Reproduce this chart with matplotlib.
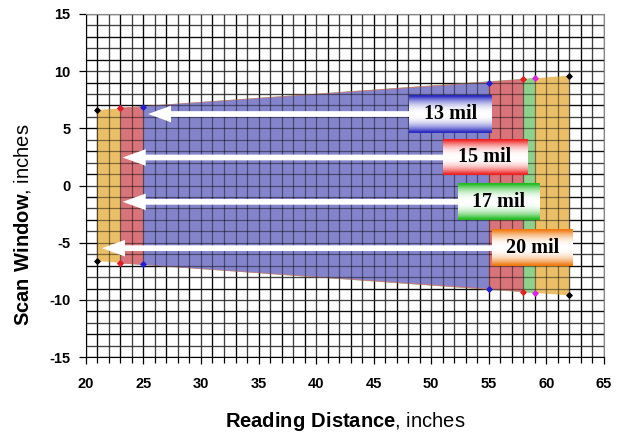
import matplotlib
matplotlib.use("Agg")
import numpy as np
import matplotlib.pyplot as plt
from matplotlib.colors import to_rgb
from matplotlib.patches import FancyArrow

plt.rcParams['font.family'] = 'Liberation Sans'
plt.rcParams['mathtext.fontset'] = 'custom'
plt.rcParams['mathtext.bf'] = 'Liberation Sans:bold'
plt.rcParams['mathtext.rm'] = 'Liberation Sans'
plt.rcParams['axes.unicode_minus'] = False

# scan windows per bar code size: (near distance, far distance), half window at each end
labels = ['20 mil', '17 mil', '15 mil', '13 mil']
near_x = [21, 23, 23, 25]
far_x = [62, 59, 58, 55]
near_half = [6.6, 6.8, 6.8, 6.9]
far_half = [9.6, 9.4, 9.3, 9.0]
fill_colors = ['#eabf68', '#8ed08c', '#d8747a', '#8484cc']
marker_colors = ['black', '#e020e0', '#e02020', '#2020d0']
box_colors = ['#f07a10', '#22bb22', '#ee2222', '#2a2ac0']

# label boxes (x0, x1, y0, y1) and arrow tips
box_x0 = [55.3, 52.3, 51.0, 48.1]
box_x1 = [62.3, 59.4, 58.3, 55.3]
box_y0 = [-7.05, -3.0, 0.9, 4.6]
box_y1 = [-3.9, 0.15, 4.0, 7.9]
arrow_tip = [21.4, 23.2, 23.2, 25.4]

fig = plt.figure(figsize=(6.22, 4.34), dpi=100)
ax = fig.add_axes([0.138, 0.177, 0.833, 0.791])

# grid every inch, alternating dark / grey
xs = np.arange(20, 66)
ys = np.arange(-15, 16)
xcol = ['#111111' if v % 2 else '#777777' for v in xs]
ycol = ['#111111' if v % 2 else '#777777' for v in ys]
ax.vlines(xs, -15, 15, colors=xcol, lw=0.9, zorder=1)
ax.hlines(ys, 20, 65, colors=ycol, lw=0.9, zorder=1)

for i in range(len(labels)):
    px = [near_x[i], near_x[i], far_x[i], far_x[i]]
    py = [-near_half[i], near_half[i], far_half[i], -far_half[i]]
    ax.fill(px, py, color=fill_colors[i], lw=0, zorder=2)

# grid shows through the fills, darkened
ax.vlines(xs, -15, 15, colors='black', lw=0.9, alpha=0.45, zorder=2.5)
ax.hlines(ys, 20, 65, colors='black', lw=0.9, alpha=0.45, zorder=2.5)

for i in range(len(labels)):
    px = [near_x[i], near_x[i], far_x[i], far_x[i]]
    py = [-near_half[i], near_half[i], far_half[i], -far_half[i]]
    ax.scatter(px, py, color=marker_colors[i], marker='D', s=7, zorder=3)

for i in range(len(labels)):
    yc = (box_y0[i] + box_y1[i]) / 2
    ax.add_patch(FancyArrow(box_x0[i] + 1, yc, arrow_tip[i] - box_x0[i] - 1, 0,
                            width=0.5, head_width=1.45, head_length=2.0,
                            length_includes_head=True, color='white', lw=0, zorder=4))
    t = np.linspace(0, 1, 60)
    w = np.clip(np.abs(2 * t - 1) ** 2.2 * 1.1, 0, 1)
    c = np.array(to_rgb(box_colors[i]))
    img = (1 - w)[:, None] * np.ones(3) + w[:, None] * c
    ax.imshow(img[:, None, :], extent=[box_x0[i], box_x1[i], box_y0[i], box_y1[i]],
              aspect='auto', zorder=5, interpolation='bilinear')
    ax.text((box_x0[i] + box_x1[i]) / 2, yc, labels[i], ha='center', va='center',
            family='Liberation Serif', fontweight='bold', fontsize=14.5, zorder=6)

ax.set_xlim(20, 65)
ax.set_ylim(-15, 15)
ax.set_xticks(np.arange(20, 66, 5))
ax.set_xticks(np.arange(20, 66, 1), minor=True)
ax.set_yticks(np.arange(-15, 16, 5))
ax.tick_params(axis='both', labelsize=10.5, direction='out', length=5, width=0.9)
ax.tick_params(axis='x', pad=9)
ax.tick_params(axis='y', pad=6)
ax.tick_params(axis='x', which='minor', length=4, width=0.9)
for lab in ax.get_xticklabels() + ax.get_yticklabels():
    lab.set_fontweight('bold')
for s in ['top', 'right']:
    ax.spines[s].set_color('#888888')

ax.set_xlabel(r'$\bf{Reading\ Distance}$, inches', fontsize=14.5, labelpad=14)
ax.set_ylabel(r'$\bf{Scan\ Window}$, inches', fontsize=14.5)
ax.yaxis.set_label_coords(-0.102, 0.385)

fig.savefig('out.png', dpi=100)
